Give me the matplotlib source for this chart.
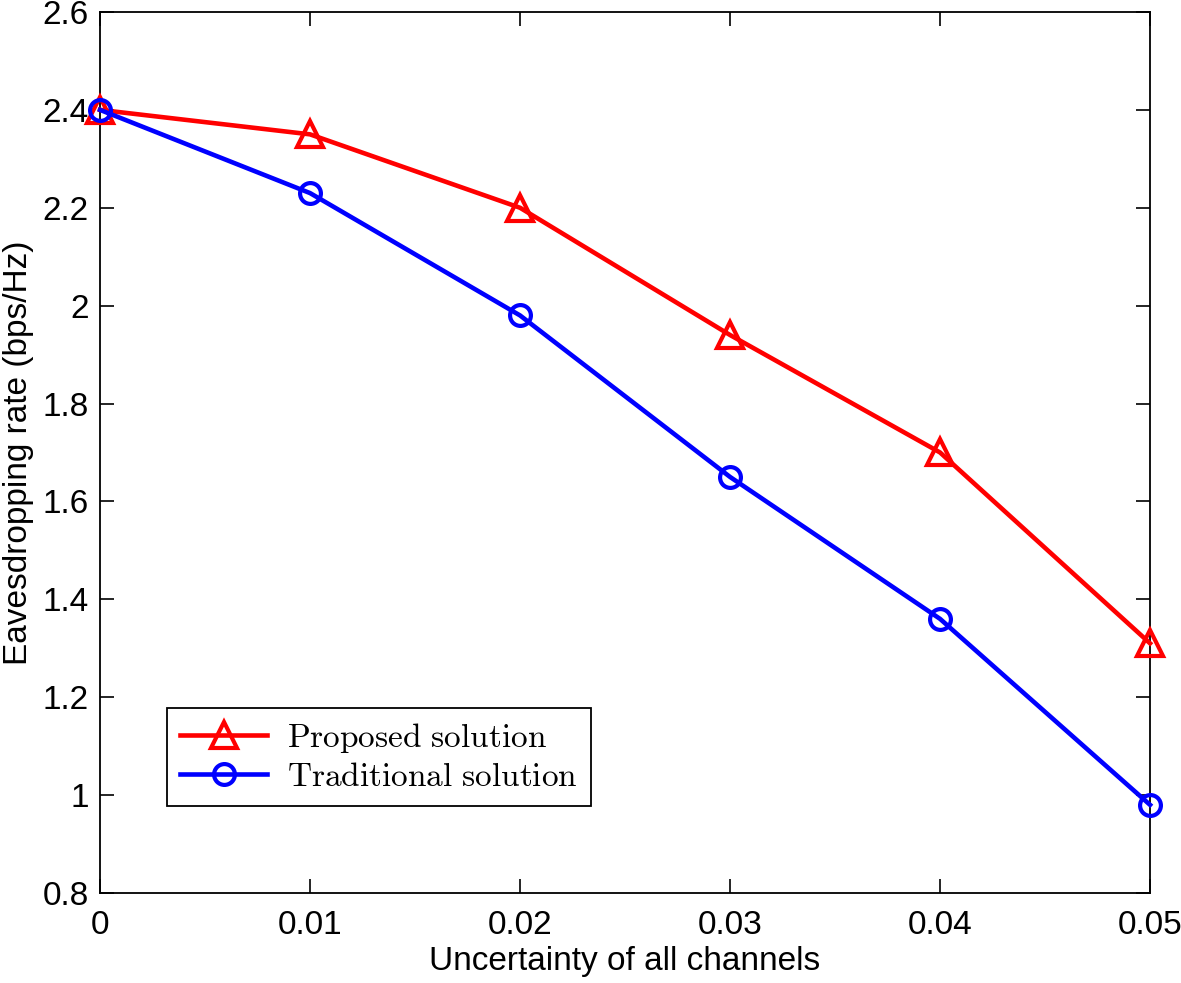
import matplotlib.pyplot as plt
import numpy as np

plt.rcParams['font.family'] = ['Liberation Sans', 'DejaVu Sans']
plt.rcParams['mathtext.fontset'] = 'cm'

uncertainty = [0, 0.01, 0.02, 0.03, 0.04, 0.05]
proposed = [2.40, 2.35, 2.20, 1.94, 1.70, 1.31]
traditional = [2.40, 2.23, 1.98, 1.65, 1.36, 0.98]

fig = plt.figure(figsize=(11.81, 9.83), dpi=100)
ax = fig.add_axes([0.0847, 0.0916, 0.8891, 0.8962])

ax.plot(uncertainty, proposed, color='red', lw=3.3, marker='^', ms=19,
        mfc='none', mec='red', mew=3, clip_on=False, zorder=3,
        label=r'$\mathrm{Proposed\ solution}$')
ax.plot(uncertainty, traditional, color='blue', lw=3.3, marker='o', ms=15,
        mfc='none', mec='blue', mew=3, clip_on=False, zorder=4,
        label=r'$\mathrm{Traditional\ solution}$')

ax.set_xlim(0, 0.05)
ax.set_ylim(0.8, 2.6)
ax.set_xticks(uncertainty)
ax.set_xticklabels(['0', '0.01', '0.02', '0.03', '0.04', '0.05'])
ax.set_yticks(np.arange(0.8, 2.61, 0.2))
ax.set_yticklabels(['0.8', '1', '1.2', '1.4', '1.6', '1.8', '2', '2.2', '2.4', '2.6'])
ax.tick_params(direction='in', length=10, width=1.2, labelsize=24, top=True, right=True)
ax.tick_params(axis='x', pad=12)
ax.tick_params(axis='y', pad=8)
for s in ax.spines.values():
    s.set_linewidth(1.3)

ax.set_xlabel('Uncertainty of all channels', fontsize=24, labelpad=4)
ax.set_ylabel('Eavesdropping rate (bps/Hz)', fontsize=24, labelpad=6)

leg = ax.legend(loc='lower left', bbox_to_anchor=(0.0638, 0.0988), fontsize=24,
                fancybox=False, edgecolor='black', framealpha=1,
                handlelength=2.6, borderpad=0.4, labelspacing=0.2,
                handletextpad=0.6, borderaxespad=0)
leg.get_frame().set_linewidth(1.3)

fig.savefig('out.png', dpi=100)
